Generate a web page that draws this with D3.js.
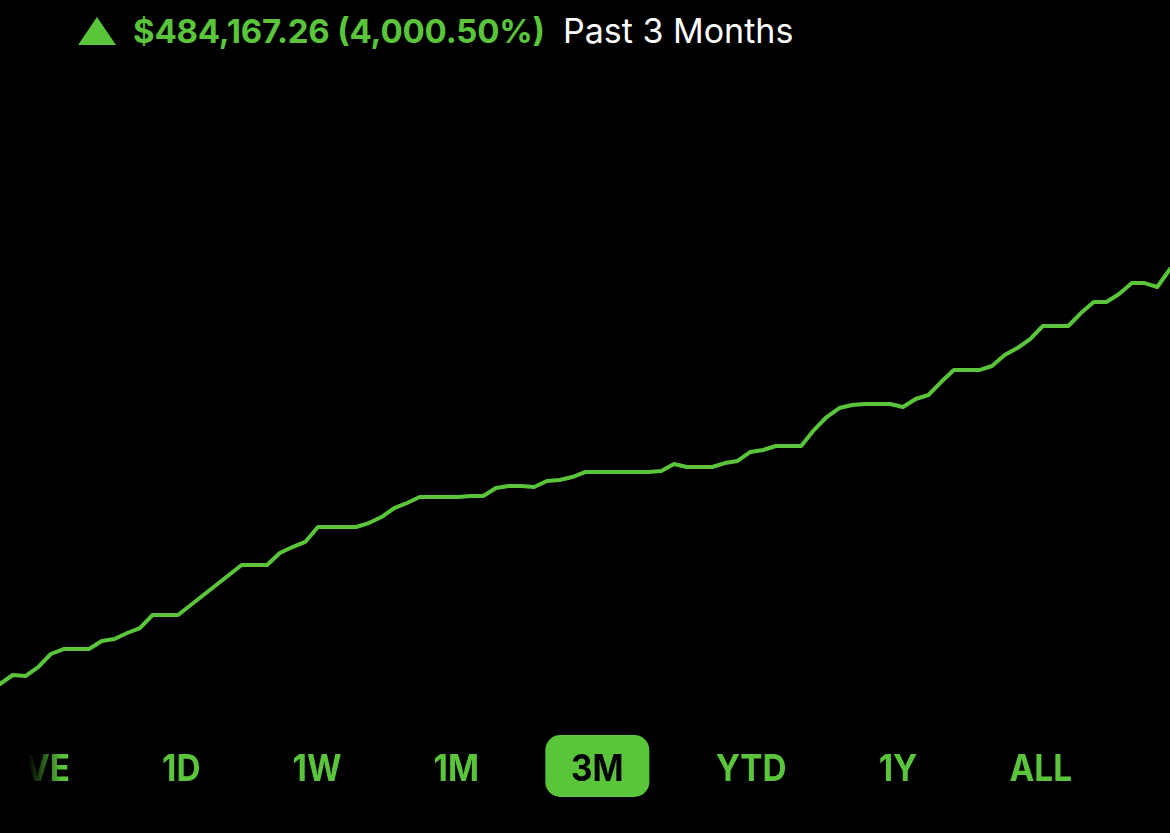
<!DOCTYPE html>
<html>
<head>
<meta charset="utf-8">
<script src="https://cdn.jsdelivr.net/npm/d3@7"></script>
<style>
  html, body { margin: 0; padding: 0; background: #000; }
  svg { display: block; }
</style>
</head>
<body>
<div id="chart"></div>
<script>
// portfolio value over the past 3 months, in thousands of dollars (one point per step)
const values = [
  12.1, 22.6, 21.4, 31.9, 47.1, 52.9, 52.9, 52.9, 62.3, 64.6,
  71.6, 77.4, 92.6, 92.6, 92.6, 104.3, 115.9, 127.6, 139.3, 150.9,
  150.9, 150.9, 164.9, 171.9, 177.8, 195.3, 195.3, 195.3, 195.3, 199.9,
  206.9, 217.4, 223.3, 230.3, 230.3, 230.3, 230.3, 231.4, 231.4, 240.8,
  243.1, 243.1, 241.9, 248.9, 250.1, 253.6, 259.4, 259.4, 259.4, 259.4,
  259.4, 259.4, 260.6, 268.8, 265.3, 265.3, 265.3, 269.9, 272.3, 282.8,
  285.1, 289.8, 289.8, 289.8, 308.4, 323.6, 334.1, 337.6, 338.8, 338.8,
  338.8, 335.3, 344.6, 349.3, 364.4, 378.4, 378.4, 378.4, 383.1, 395.9,
  404.1, 414.6, 429.8, 429.8, 429.8, 444.9, 457.8, 457.8, 467.1, 479.9,
  479.9, 475.3, 496.3
];
const gain = 484167.26;
const gainPct = 4000.50;
const periodLabel = "Past 3 Months";
const ranges = ["LIVE", "1D", "1W", "1M", "3M", "YTD", "1Y", "ALL"];
const selectedRange = "3M";

const w = 1170;
const h = 833;
const green = "#5ac53b";

const svg = d3.select("#chart").append("svg")
  .attr("width", w)
  .attr("height", h);

svg.append("rect").attr("width", w).attr("height", h).attr("fill", "#000");

// header
const header = svg.append("g");
header.append("path")
  .attr("d", "M97,17 L116,45 L78,45 Z")
  .attr("fill", green);

const fmtMoney = d3.format("$,.2f");
const fmtPct = d3.format(",.2f");
header.append("text")
  .attr("x", 133)
  .attr("y", 43)
  .attr("fill", green)
  .style("font-family", "Inter, 'Noto Sans', sans-serif")
  .style("font-weight", 700)
  .style("font-size", "33px")
  .attr("textLength", 412)
  .attr("lengthAdjust", "spacing")
  .text(`${fmtMoney(gain)} (${fmtPct(gainPct)}%)`);

header.append("text")
  .attr("x", 563)
  .attr("y", 43)
  .attr("fill", "#fff")
  .style("font-family", "Inter, 'Noto Sans', sans-serif")
  .style("font-weight", 400)
  .style("font-size", "34px")
  .text(periodLabel);

// line
const x = d3.scaleLinear()
  .domain([0, values.length - 1])
  .range([0, w]);
const y = d3.scaleLinear()
  .domain(d3.extent(values))
  .range([684, 269]);

const line = d3.line()
  .x((d, i) => x(i))
  .y(d => y(d));

svg.append("path")
  .datum(values)
  .attr("d", line)
  .attr("fill", "none")
  .attr("stroke", green)
  .attr("stroke-width", 4)
  .attr("stroke-linejoin", "round")
  .attr("stroke-linecap", "round");

// range selector (scrolled so LIVE is partly off screen, faded at the left)
const defs = svg.append("defs");
const grad = defs.append("linearGradient")
  .attr("id", "fade")
  .attr("gradientUnits", "userSpaceOnUse")
  .attr("x1", 28).attr("x2", 62).attr("y1", 0).attr("y2", 0);
grad.append("stop").attr("offset", 0).attr("stop-color", "#fff").attr("stop-opacity", 0);
grad.append("stop").attr("offset", 1).attr("stop-color", "#fff").attr("stop-opacity", 1);
defs.append("mask").attr("id", "fadeMask")
  .append("rect")
  .attr("x", 0).attr("y", 720).attr("width", w).attr("height", 100)
  .attr("fill", "url(#fade)");

const sx = 0.9; // labels are a touch condensed
const bar = svg.append("g").attr("mask", "url(#fadeMask)");
const labels = bar.selectAll("text.range")
  .data(ranges)
  .enter()
  .append("text")
  .attr("class", "range")
  .attr("fill", d => d === selectedRange ? "#000" : green)
  .style("font-family", "Inter, 'Noto Sans', sans-serif")
  .style("font-weight", 700)
  .style("font-size", "37px")
  .text(d => d);

// lay labels out with an even gap: first one ends at 70, last one ends at 1072
const widths = labels.nodes().map(n => n.getComputedTextLength() * sx);
const restWidth = d3.sum(widths.slice(1));
const gap = (1072 - 70 - restWidth) / (ranges.length - 1);
const lefts = [];
let cursor = 70 - widths[0];
widths.forEach((wd, i) => {
  lefts.push(cursor);
  cursor += wd + gap;
});
labels.attr("transform", (d, i) => `translate(${lefts[i]},781) scale(${sx},1)`);

const si = ranges.indexOf(selectedRange);
const cx = lefts[si] + widths[si] / 2;
bar.insert("rect", "text")
  .attr("x", cx - 52)
  .attr("y", 735)
  .attr("width", 104)
  .attr("height", 62)
  .attr("rx", 15)
  .attr("fill", green);
</script>
</body>
</html>
